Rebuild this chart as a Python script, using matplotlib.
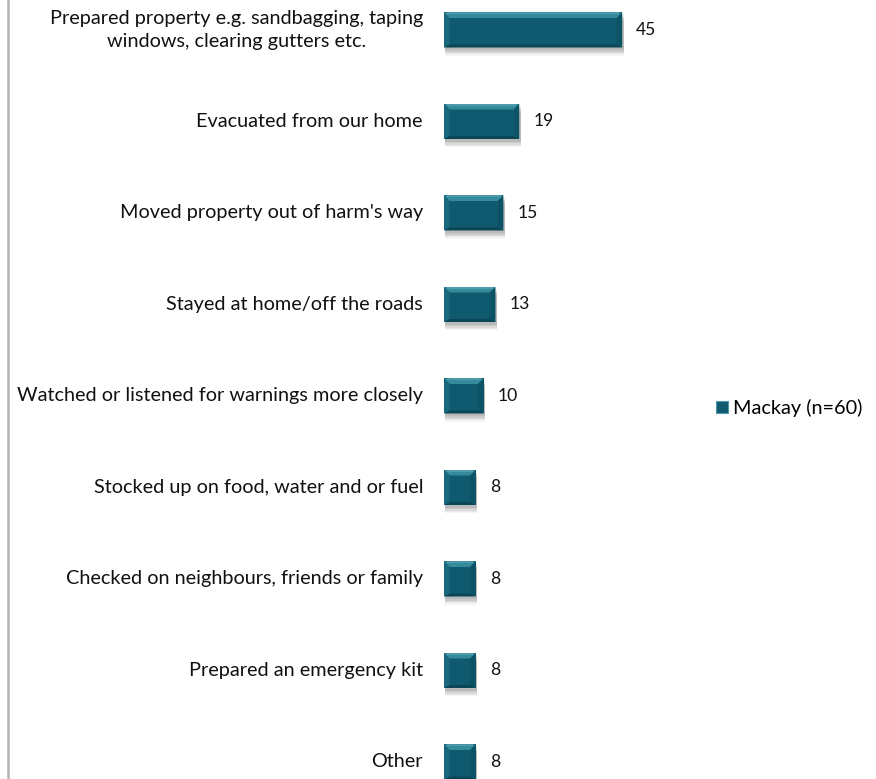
import matplotlib
matplotlib.use("Agg")
import matplotlib.pyplot as plt
from matplotlib.patches import Polygon, Rectangle, Patch
from matplotlib.lines import Line2D
import matplotlib.patheffects as pe

plt.rcParams['font.family'] = ['Lato', 'DejaVu Sans']

categories = [
    "Prepared property e.g. sandbagging, taping\nwindows, clearing gutters etc.",
    "Evacuated from our home",
    "Moved property out of harm's way",
    "Stayed at home/off the roads",
    "Watched or listened for warnings more closely",
    "Stocked up on food, water and or fuel",
    "Checked on neighbours, friends or family",
    "Prepared an emergency kit",
    "Other",
]
values = [45, 19, 15, 13, 10, 8, 8, 8, 8]
series_label = "Mackay (n=60)"

W, H, DPI = 876, 779, 100
FACE = "#0f5a6e"
TOP = "#358a9c"
SIDE_L = "#1a687c"
SIDE_R = "#0d5366"
BOTTOM = "#0a4656"

fig = plt.figure(figsize=(W / DPI, H / DPI), dpi=DPI)
fig.patch.set_facecolor("white")

# plot area: value 0 sits at x=444 px, 3.96 px per unit
x0_px = 444
ax_w_px = 3.96 * 60
ax = fig.add_axes([x0_px / W, 0, ax_w_px / W, 1])
ax.set_xlim(0, 60)
slot = 91.5
first_c = 30
ax.set_ylim((H - first_c) / slot, -first_c / slot)
ax.axis("off")

ypos = list(range(len(categories)))
bar_h = 35 / slot
shadow = [pe.SimplePatchShadow(offset=(1, -d), shadow_rgbFace="#000000", alpha=a)
          for d, a in [(6, 0.04), (5, 0.05), (4, 0.06), (3, 0.07), (2, 0.08)]]
bars = ax.barh(ypos, values, height=bar_h, color=FACE, zorder=3,
               path_effects=shadow + [pe.Normal()])

# bevel edges, sized in pixels
bev = 5.5
sx = ax_w_px / 60
sy = slot
bx, by = bev / sx, bev / sy
for rect in bars:
    xa = rect.get_x()
    xb = xa + rect.get_width()
    top = rect.get_y()
    bot = top + rect.get_height()
    bby = by * 0.55
    polys = [
        ([(xa, top), (xb, top), (xb - bx, top + by), (xa + bx, top + by)], TOP),
        ([(xa, bot), (xb, bot), (xb - bx, bot - bby), (xa + bx, bot - bby)], BOTTOM),
        ([(xa, top), (xa + bx, top + by), (xa + bx, bot - bby), (xa, bot)], SIDE_L),
        ([(xb, top), (xb - bx, top + by), (xb - bx, bot - bby), (xb, bot)], SIDE_R),
    ]
    for pts, c in polys:
        ax.add_patch(Polygon(pts, closed=True, facecolor=c, edgecolor="none", zorder=4))
    # thin highlight along the top edge
    ax.add_patch(Rectangle((xa + bx * 0.5, top), xb - xa - bx, by * 0.3,
                           facecolor="#63adbc", edgecolor="none", zorder=5, alpha=0.55))

FS = 14.3
for y, v, lab in zip(ypos, values, categories):
    ax.text(-21 / sx, y, lab, ha="right", va="center", multialignment="center",
            fontsize=FS, color="#111111", linespacing=1.45, clip_on=False)
    ax.text(v + 14 / sx, y, f"{v}", ha="left", va="center",
            fontsize=FS * 0.88, color="#111111", clip_on=False)

# chart-area border on the left
fig.add_artist(Line2D([7.5 / W, 7.5 / W], [0, 1], transform=fig.transFigure,
                      color="#b3b3b3", lw=1.8))

handle = Patch(facecolor=FACE, edgecolor="#4f9aab", linewidth=0.8)
fig.legend([handle], [series_label], loc="center left",
           bbox_to_anchor=(716 / W, 1 - 408 / H), frameon=False,
           fontsize=FS, handlelength=0.62, handleheight=0.62,
           handletextpad=0.25, borderpad=0, borderaxespad=0)

fig.savefig("out.png", dpi=DPI, facecolor="white")
